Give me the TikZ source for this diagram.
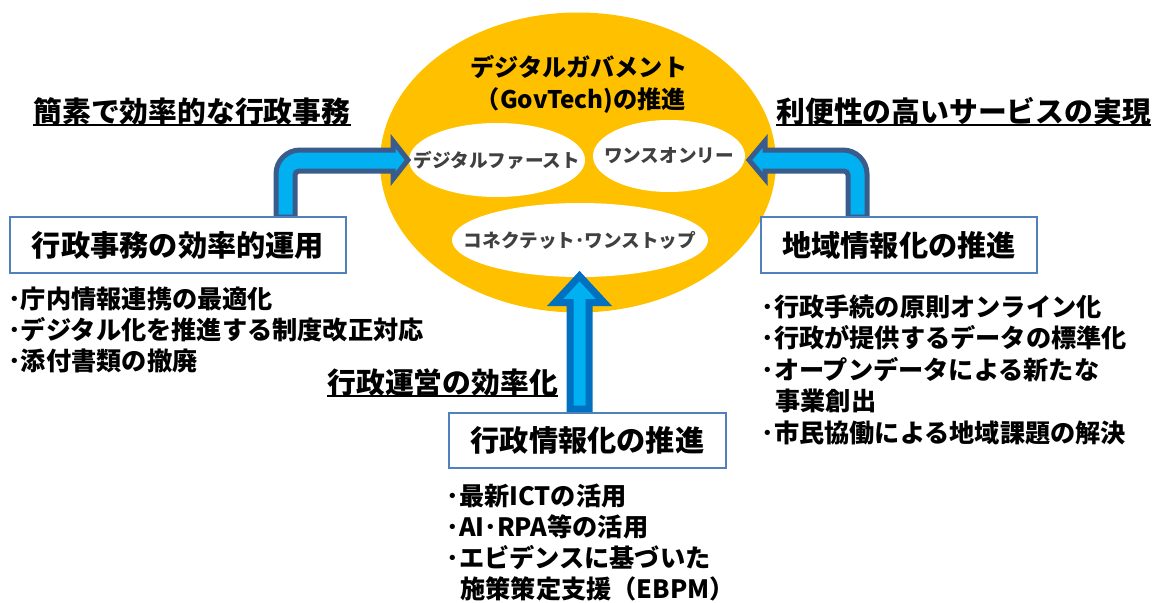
\documentclass[tikz,border=0pt]{standalone}
\usepackage{fontspec}
\setmainfont{Noto Sans CJK JP}
\usetikzlibrary{shapes.geometric}

\definecolor{govorange}{RGB}{255,192,0}
\definecolor{arrowfill}{RGB}{0,176,240}
\definecolor{arrowedge}{RGB}{58,92,140}
\definecolor{arrowedgeb}{RGB}{0,112,192}
\definecolor{boxedge}{RGB}{79,129,189}
\definecolor{innertext}{RGB}{64,64,64}

\begin{document}
\begin{tikzpicture}[
  x=0.5pt,y=0.5pt,
  heading/.style={anchor=base west,inner sep=0pt,font=\fontsize{14.4}{17}\selectfont\bfseries},
  areabox/.style={rectangle,draw=boxedge,line width=1pt,fill=white,inner sep=0pt,font=\fontsize{14.6}{17}\selectfont\bfseries},
  policy/.style={ellipse,fill=white,inner sep=0pt,text=innertext,font=\fontsize{9.3}{11}\selectfont\bfseries},
  item/.style={anchor=base west,inner sep=0pt,font=\fontsize{12.6}{15}\selectfont\bfseries},
  bentarrow/.style={draw=arrowedge,fill=arrowfill,line width=2.5pt,line join=miter}
]

\useasboundingbox (0,0) rectangle (1154,602);

% GovTech ellipse
\node[ellipse,fill=govorange,minimum width=198pt,minimum height=150pt] (govtech) at (578,439.5) {};
\node[anchor=base,inner sep=0pt,font=\fontsize{12.1}{14}\selectfont\bfseries] (title1) at (579,526) {デジタルガバメント};
\node[anchor=base,inner sep=0pt,font=\fontsize{12.1}{14}\selectfont\bfseries] (title2) at (581,494) {（GovTech)の推進};

\node[policy,minimum width=88pt,minimum height=37pt] (first) at (497,442) {\makebox[0pt]{デジタルファースト}};
\node[policy,minimum width=76pt,minimum height=36pt] (once) at (669,446) {\makebox[0pt]{ワンスオンリー}};
\node[policy,minimum width=128pt,minimum height=37pt] (stop) at (580,362) {\makebox[0pt]{コネクテット･ワンストップ}};

% arrows
\draw[bentarrow] (276,385) -- (276,428) arc[start angle=180,end angle=90,radius=24]
  -- (393,452) -- (393,461) -- (408,442) -- (393,423) -- (393,431)
  -- (299,431) arc[start angle=90,end angle=180,radius=4] -- (295,385) -- cycle;
\draw[bentarrow] (867,385) -- (867,428) arc[start angle=0,end angle=90,radius=24]
  -- (765,452) -- (765,461) -- (749,442) -- (765,423) -- (765,431)
  -- (844,431) arc[start angle=90,end angle=0,radius=4] -- (848,385) -- cycle;
\draw[draw=arrowedgeb,fill=arrowfill,line width=3.5pt,line join=miter]
  (570,193) -- (570,299.5) -- (555,299.5) -- (579.5,326) -- (604,299.5)
  -- (589,299.5) -- (589,193) -- cycle;

% boxes
\node[areabox,minimum width=168pt,minimum height=28pt] (office) at (178,357) {行政事務の効率的運用};
\node[areabox,minimum width=138pt,minimum height=28pt] (region) at (899,357) {地域情報化の推進};
\node[areabox,minimum width=138.5pt,minimum height=27.5pt] (info) at (587.5,161.5) {行政情報化の推進};

% headings
\node[heading] (simple) at (33,480) {簡素で効率的な行政事務};
\node[heading] (service) at (776,480) {利便性の高いサービスの実現};
\node[heading] (admin) at (327,209) {行政運営の効率化};
\foreach \h in {simple,service,admin}
  \draw[line width=0.75pt] ([yshift=-1.5pt]\h.base west) -- ([yshift=-1.5pt]\h.base east);

% lists
\foreach \t [count=\i] in {･庁内情報連携の最適化,･デジタル化を推進する制度改正対応,･添付書類の撤廃}
  \node[item] (office-\i) at (8,{294-31*(\i-1)}) {\t};
\foreach \t [count=\i] in {･行政手続の原則オンライン化,･行政が提供するデータの標準化,･オープンデータによる新たな,\hspace*{7pt}事業創出,･市民協働による地域課題の解決}
  \node[item] (region-\i) at (761,{286-31.5*(\i-1)}) {\t};
\foreach \t [count=\i] in {･最新ICTの活用,･AI･RPA等の活用,･エビデンスに基づいた,\hspace*{7pt}施策策定支援（EBPM）}
  \node[item] (info-\i) at (446,{97-31*(\i-1)}) {\t};

\end{tikzpicture}
\end{document}
